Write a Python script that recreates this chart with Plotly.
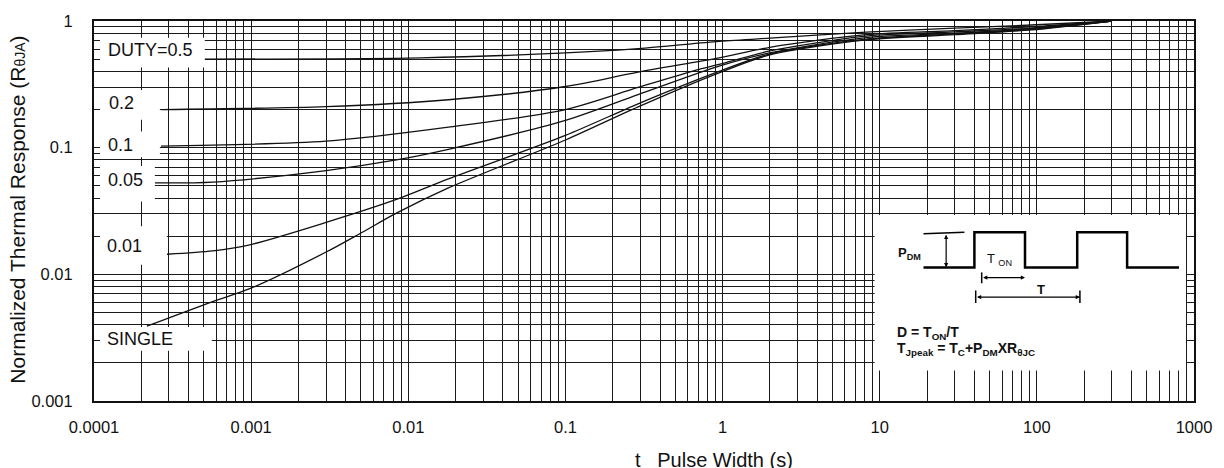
import plotly.graph_objects as go

W, H = 1224, 468
ML, MR, MT, MB = 94, 28, 16, 67
PW, PH = W - ML - MR, H - MT - MB
FONT = "Liberation Sans, Arial, sans-serif"

# Transient thermal response, one series per duty cycle: pulse width t (s) -> r(t)
t_d05 = [4.9e-4, 1.2e-2, 0.10, 0.29, 0.95, 2.0, 8.2, 30, 92, 300]
r_d05 = [0.50, 0.512, 0.56, 0.605, 0.69, 0.733, 0.816, 0.877, 0.93, 1.0]

t_d02 = [2.67e-4, 3.0e-3, 1.8e-2, 0.10, 0.29, 0.95, 2.0, 8.2, 30, 92, 300]
r_d02 = [0.20, 0.211, 0.239, 0.304, 0.395, 0.512, 0.62, 0.78, 0.84, 0.90, 1.0]

t_d01 = [2.67e-4, 3.0e-3, 1.8e-2, 0.10, 0.29, 0.71, 0.95, 2.0, 8.2, 30, 92, 300]
r_d01 = [0.103, 0.1125, 0.145, 0.20, 0.299, 0.415, 0.454, 0.58, 0.76, 0.82, 0.88, 1.0]

t_d005 = [2.44e-4, 5.7e-4, 3.0e-3, 8.4e-3, 1.8e-2, 0.10, 0.29, 0.95, 2.0, 8.2, 30, 92, 300]
r_d005 = [0.0527, 0.0535, 0.066, 0.080, 0.097, 0.164, 0.262, 0.44, 0.56, 0.74, 0.80, 0.87, 1.0]

t_d001 = [2.91e-4, 5.7e-4, 9.8e-4, 3.0e-3, 8.4e-3, 1.8e-2, 0.10, 0.29, 0.95, 2.0, 8.2, 30, 92, 300]
r_d001 = [0.0144, 0.0153, 0.0171, 0.0257, 0.039, 0.0567, 0.125, 0.222, 0.40, 0.55, 0.72, 0.79, 0.86, 1.0]

t_single = [2.17e-4, 5.7e-4, 9.8e-4, 3.0e-3, 5.1e-3, 8.4e-3, 1.8e-2, 0.10, 0.29, 0.95, 2.0, 8.2, 30, 92, 300]
r_single = [0.0039, 0.0061, 0.0077, 0.0150, 0.0215, 0.0304, 0.0481, 0.115, 0.21, 0.39, 0.54, 0.71, 0.78, 0.85, 1.0]

series = [
    ("DUTY=0.5", t_d05, r_d05),
    ("0.2", t_d02, r_d02),
    ("0.1", t_d01, r_d01),
    ("0.05", t_d005, r_d005),
    ("0.01", t_d001, r_d001),
    ("SINGLE", t_single, r_single),
]

x_decades = [1e-4, 1e-3, 1e-2, 0.1, 1, 10, 100, 1000]
x_labels = ["0.0001", "0.001", "0.01", "0.1", "1", "10", "100", "1000"]
y_decades = [1e-3, 1e-2, 0.1, 1]
y_labels = ["0.001", "0.01", "0.1", "1"]


def log_grid(decades, labels):
    vals, text = [], []
    for i, d in enumerate(decades):
        steps = range(1, 10) if i < len(decades) - 1 else [1]
        for k in steps:
            vals.append(d * k)
            text.append(labels[i] if k == 1 else "")
    return vals, text


xv, xt = log_grid(x_decades, x_labels)
yv, yt = log_grid(y_decades, y_labels)


def px(x):
    return (x - ML) / PW


def py(y):
    return (H - MB - y) / PH


fig = go.Figure()
for name, t, r in series:
    fig.add_trace(go.Scatter(
        x=t, y=r, mode="lines", name=name,
        line=dict(color="#111111", width=1.3, shape="spline", smoothing=0.8),
        showlegend=False, hoverinfo="skip",
    ))

shapes = []
annotations = []

# white label boxes at the left edge, each curve's name written inside
label_boxes = {
    "DUTY=0.5": (100, 205, 33, 63, 150.5, 45),
    "0.2": (100, 160, 86, 116, 122, 99),
    "0.1": (100, 160, 128, 154, 121, 142),
    "0.05": (100, 155, 163, 199, 125.5, 177),
    "0.01": (100, 167, 224, 263, 124.5, 244),
    "SINGLE": (100, 212, 326, 350, 140, 338),
}
for name, _, _ in series:
    x0, x1, y0, y1, tx, ty = label_boxes[name]
    shapes.append(dict(type="rect", xref="paper", yref="paper", layer="above",
                       x0=px(x0), x1=px(x1), y0=py(y1), y1=py(y0),
                       fillcolor="white", line=dict(width=0)))
    annotations.append(dict(xref="paper", yref="paper", x=px(tx), y=py(ty),
                            xanchor="center", yanchor="middle",
                            text=name, showarrow=False,
                            font=dict(family=FONT, size=18, color="#111111")))

# inset: pulse train definition
shapes.append(dict(type="rect", xref="paper", yref="paper", layer="above",
                   x0=px(876), x1=px(1188), y0=py(370), y1=py(212.5),
                   fillcolor="white", line=dict(width=0)))

lo, hi = 265.7, 230
wave_x = [925, 976, 976, 1026.7, 1026.7, 1079, 1079, 1129, 1129, 1181]
wave_y = [lo, lo, hi, hi, lo, lo, hi, hi, lo, lo]
path = "M " + " L ".join(f"{px(a):.5f},{py(b):.5f}" for a, b in zip(wave_x, wave_y))
shapes.append(dict(type="path", xref="paper", yref="paper", layer="above",
                   path=path, line=dict(color="black", width=2.5)))
# reference level for the peak power
shapes.append(dict(type="line", xref="paper", yref="paper", layer="above",
                   x0=px(925), y0=py(231.5), x1=px(966), y1=py(230),
                   line=dict(color="black", width=1.5)))
# end ticks of the T_ON and T dimensions
for xx, ya, yb in [(983.3, 270.7, 281.7), (977.3, 289, 301.7), (1081.7, 289, 301.7)]:
    shapes.append(dict(type="line", xref="paper", yref="paper", layer="above",
                       x0=px(xx), y0=py(ya), x1=px(xx), y1=py(yb),
                       line=dict(color="black", width=1.5)))

# double-headed dimension arrows
for (xa, ya, xb, yb) in [(947.7, 231.5, 947.7, 265.5),
                         (983.3, 276, 1026.7, 276),
                         (977.3, 295.7, 1081.7, 295.7)]:
    annotations.append(dict(xref="paper", yref="paper", x=px(xb), y=py(yb),
                            ax=xa - xb, ay=ya - yb, axref="pixel", ayref="pixel",
                            text="", showarrow=True, arrowside="end+start",
                            arrowhead=2, arrowsize=0.7, arrowwidth=1.2,
                            arrowcolor="black"))

inset_text = [
    (897, 252, "<b>P<sub>DM</sub></b>", 13),
    (987, 258, "T <sub>ON</sub>", 13),
    (1037, 288, "<b>T</b>", 13),
    (896.7, 332, "<b>D = T<sub>ON</sub>/T</b>", 14),
    (896.7, 348, "<b>T<sub>Jpeak</sub> = T<sub>C</sub>+P<sub>DM</sub>XR<sub>θJC</sub></b>", 14),
]
for xx, yy, txt, sz in inset_text:
    annotations.append(dict(xref="paper", yref="paper", x=px(xx), y=py(yy),
                            xanchor="left", yanchor="middle", text=txt,
                            showarrow=False,
                            font=dict(family=FONT, size=sz, color="#111111")))

# axis titles
annotations.append(dict(xref="paper", yref="paper", x=px(715), y=py(461),
                        text="t   Pulse Width (s)", showarrow=False,
                        xanchor="center", yanchor="middle",
                        font=dict(family=FONT, size=20, color="#111111")))
annotations.append(dict(xref="paper", yref="paper", x=px(17), y=py(207),
                        text="Normalized Thermal Response (R"
                             "<span style='font-size:14px'>θJA</span>)",
                        textangle=-90, showarrow=False,
                        xanchor="center", yanchor="middle",
                        font=dict(family=FONT, size=21, color="#111111")))

axis_common = dict(
    showgrid=True, gridcolor="#1a1a1a", gridwidth=1,
    showline=True, linecolor="#111111", linewidth=2, mirror=True,
    ticks="", zeroline=False,
    tickfont=dict(family=FONT, size=16.5, color="#111111"),
)

fig.update_layout(
    width=W, height=H,
    margin=dict(l=ML, r=MR, t=MT, b=MB, pad=0),
    paper_bgcolor="white", plot_bgcolor="white",
    xaxis=dict(type="log", range=[-4, 3], tickmode="array",
               tickvals=xv, ticktext=xt, ticklabelstandoff=10, **axis_common),
    yaxis=dict(type="log", range=[-3, 0], tickmode="array",
               tickvals=yv, ticktext=yt, ticklabelstandoff=16, **axis_common),
    shapes=shapes,
    annotations=annotations,
)

fig.write_html("out.html")
